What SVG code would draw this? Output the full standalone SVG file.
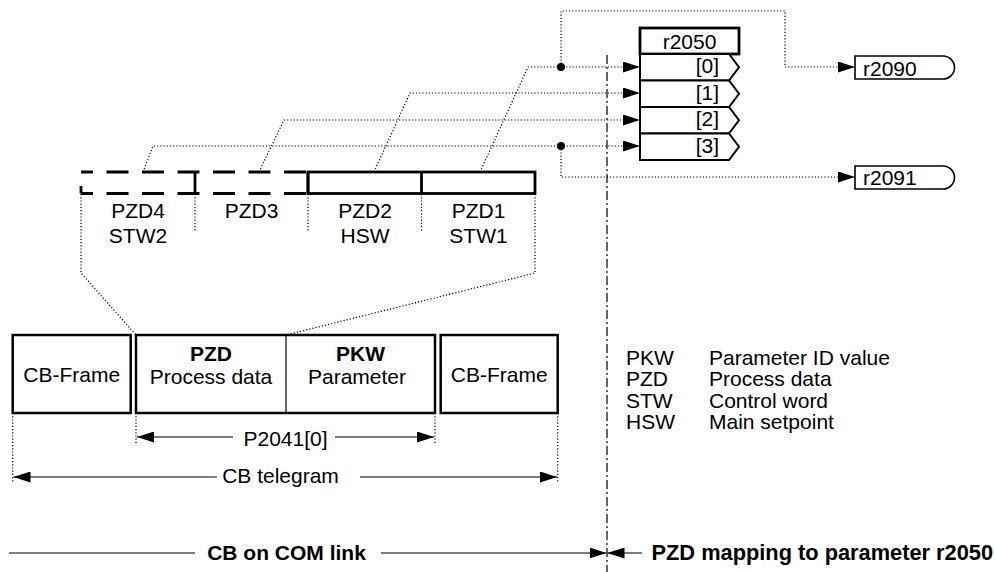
<svg xmlns="http://www.w3.org/2000/svg" width="995" height="572" viewBox="0 0 995 572">
<defs>
<marker id="ah" viewBox="0 0 17 11" refX="17" refY="5.5" markerWidth="17" markerHeight="11" markerUnits="userSpaceOnUse" orient="auto"><path d="M0,0 L17,5.5 L0,11 Z" fill="#000"/></marker>
</defs>
<style>
text{font-family:"Liberation Sans",Arial,Helvetica,sans-serif;font-size:21px;fill:#000}
.b{font-weight:bold}
.c{text-anchor:middle}
.e{text-anchor:end}
.dot{fill:none;stroke:#000;stroke-width:1.2;stroke-dasharray:1.2 2}
.thick{fill:#fff;stroke:#000;stroke-width:2.5}
.thin{fill:none;stroke:#000;stroke-width:1.2}
.dash{fill:none;stroke:#000;stroke-width:2.8;stroke-dasharray:22 13.5;stroke-dashoffset:10}
.solid{fill:none;stroke:#000;stroke-width:2.8}
.dd{fill:none;stroke:#000;stroke-width:1.2;stroke-dasharray:9 3 2 3}
.arr{marker-end:url(#ah)}
</style>
<rect width="995" height="572" fill="#fff"/>

<g id="connectors">
  <path class="dot arr" d="M480,172 L528,67 H640"/>
  <path class="dot arr" d="M374,172 L410,93 H640"/>
  <path class="dot arr" d="M259,172 L284,120 H640"/>
  <path class="dot arr" d="M143,172 L153,146 H640"/>
  <path class="dot arr" d="M561,67 V11 H785 V67 H855"/>
  <path class="dot arr" d="M561,146 V177 H855"/>
  <circle cx="561" cy="67" r="4" fill="#000"/>
  <circle cx="561" cy="146" r="4" fill="#000"/>
  <path class="dot" d="M81,194 V273 L136,335"/>
  <path class="dot" d="M535,194 V273 L286,335"/>
  <path class="dot" d="M195,194 V232 M308,194 V232 M421.5,194 V232"/>
  <path class="dot" d="M136,413 V443 M435,413 V443 M12.7,413 V482 M557.7,413 V482"/>
  <path class="thin arr" d="M233,437 H137"/>
  <path class="thin arr" d="M335,437 H434"/>
  <path class="thin arr" d="M217,477 H13.5"/>
  <path class="thin arr" d="M360,477 H557"/>
  <path class="thin" d="M9,553 H195"/>
  <path class="thin arr" d="M381,553 H606.5"/>
  <path class="thin arr" d="M642,553 H607.5"/>
  <path class="dd" d="M607,55 V572"/>
</g>

<g id="r2050">
  <rect x="640" y="28" width="99" height="26" fill="#fff" stroke="#000" stroke-width="2.8"/>
  <text class="c" x="689.5" y="48.5">r2050</text>
</g>
<g id="r2050-0">
  <path d="M640,54 H729 L739,67.25 L729,80.5 H640 Z" fill="#fff" stroke="#000" stroke-width="2"/>
  <text class="e" x="719" y="73">[0]</text>
</g>
<g id="r2050-1">
  <path d="M640,80.5 H729 L739,93.75 L729,107 H640 Z" fill="#fff" stroke="#000" stroke-width="2"/>
  <text class="e" x="719" y="99.5">[1]</text>
</g>
<g id="r2050-2">
  <path d="M640,107 H729 L739,120.25 L729,133.5 H640 Z" fill="#fff" stroke="#000" stroke-width="2"/>
  <text class="e" x="719" y="126">[2]</text>
</g>
<g id="r2050-3">
  <path d="M640,133.5 H729 L739,146.75 L729,160 H640 Z" fill="#fff" stroke="#000" stroke-width="2"/>
  <text class="e" x="719" y="152.5">[3]</text>
</g>

<g id="r2090">
  <path d="M855,56 H943 A11.5,11.5 0 0 1 943,79 H855 Z" fill="#fff" stroke="#000" stroke-width="1.6"/>
  <text x="863" y="76">r2090</text>
</g>
<g id="r2091">
  <path d="M855,166 H943 A11.5,11.5 0 0 1 943,189 H855 Z" fill="#fff" stroke="#000" stroke-width="1.6"/>
  <text x="863" y="185">r2091</text>
</g>

<g id="pzd-bar">
  <path class="dash" d="M81,172 H308"/>
  <path class="dash" d="M81,193.5 H308"/>
  <path class="solid" d="M81,186 V193.5"/>
  <path class="solid" d="M195,172 V193.5 M308,172 V193.5"/>
  <rect x="308" y="172" width="227" height="21.5" fill="none" stroke="#000" stroke-width="2.8"/>
  <path class="solid" d="M421.5,172 V193.5"/>
</g>
<g id="pzd4">
  <text class="c" x="138" y="217.5">PZD4</text>
  <text class="c" x="138" y="243">STW2</text>
</g>
<g id="pzd3">
  <text class="c" x="251.5" y="217.5">PZD3</text>
</g>
<g id="pzd2">
  <text class="c" x="365" y="217.5">PZD2</text>
  <text class="c" x="365" y="243">HSW</text>
</g>
<g id="pzd1">
  <text class="c" x="478.5" y="217.5">PZD1</text>
  <text class="c" x="478.5" y="243">STW1</text>
</g>

<g id="cb-frame-left">
  <rect class="thick" x="12.7" y="335" width="118" height="78"/>
  <text class="c" x="71.7" y="382">CB-Frame</text>
</g>
<g id="pzd-pkw">
  <rect class="thick" x="136" y="335" width="299" height="78"/>
  <path class="thin" d="M286,335 V413"/>
  <text class="c b" x="211" y="361">PZD</text>
  <text class="c" x="211" y="384">Process data</text>
  <text class="c b" x="360.5" y="361">PKW</text>
  <text class="c" x="357" y="384">Parameter</text>
</g>
<g id="cb-frame-right">
  <rect class="thick" x="440.7" y="335" width="117" height="78"/>
  <text class="c" x="499.2" y="382">CB-Frame</text>
</g>

<g id="dimensions">
  <text class="c" x="285.5" y="446">P2041[0]</text>
  <text class="c" x="280.5" y="483">CB telegram</text>
</g>

<g id="legend">
  <text x="626" y="364.5">PKW</text>
  <text x="709" y="364.5">Parameter ID value</text>
  <text x="626" y="386">PZD</text>
  <text x="709" y="386">Process data</text>
  <text x="626" y="407.5">STW</text>
  <text x="709" y="407.5">Control word</text>
  <text x="626" y="429">HSW</text>
  <text x="709" y="429">Main setpoint</text>
</g>

<g id="footer">
  <text class="c b" x="286.5" y="560">CB on COM link</text>
  <text class="b" x="651.5" y="560" style="font-size:21.8px">PZD mapping to parameter r2050</text>
</g>
</svg>
